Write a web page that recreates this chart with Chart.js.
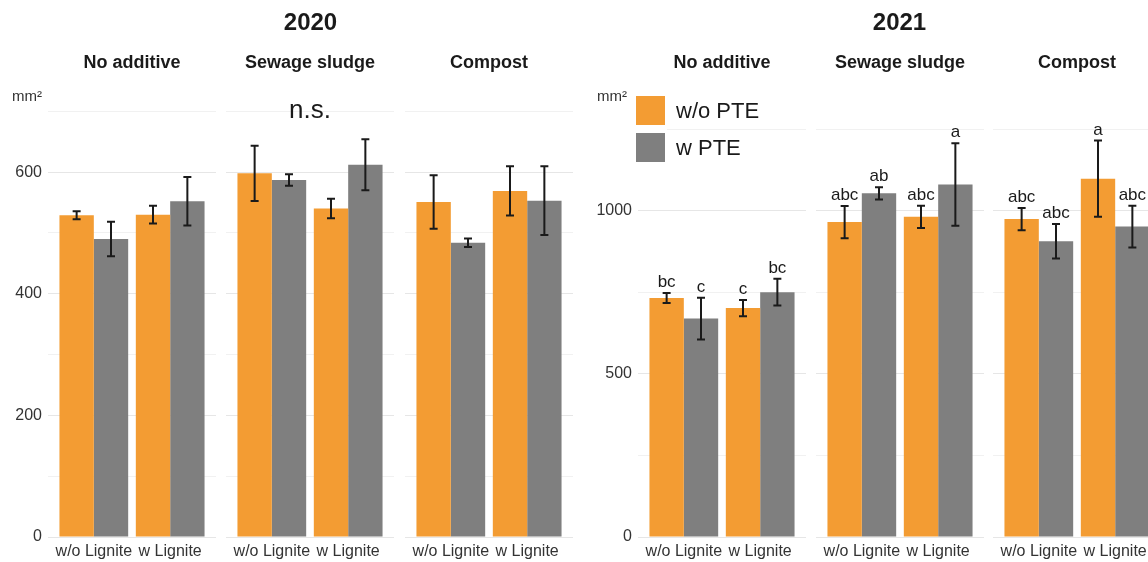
<!DOCTYPE html>
<html>
<head>
<meta charset="utf-8">
<script src="https://cdn.jsdelivr.net/npm/chart.js@4.4.0/dist/chart.umd.min.js"></script>
<style>
  body { margin: 0; width: 1148px; height: 562px; overflow: hidden; background: #fff; position: relative;
         font-family: 'Liberation Sans', Arial, sans-serif; color: #1a1a1a; }
  canvas { position: absolute; top: 0; }
  .year { position: absolute; top: 8px; font-size: 24px; line-height: 28px; font-weight: bold; text-align: center; }
  .unit { position: absolute; top: 87px; font-size: 15px; line-height: 18px; color: #333; }
  .keybg { position: absolute; left: 634px; top: 94px; width: 33px; height: 70px; background: #fff; }
  .key { position: absolute; left: 636px; width: 29px; height: 29px; }
  .keytxt { position: absolute; left: 676px; font-size: 22px; line-height: 29px; }
</style>
</head>
<body>
<script>
var facets = ['No additive', 'Sewage sludge', 'Compost'];
var ligniteLabels = ['w/o Lignite', 'w Lignite'];
var pteLabels = ['w/o PTE', 'w PTE'];
var pteColors = ['#F39C33', '#7F7F7F'];

// values in facet order, each facet: w/o Lignite, w Lignite
var mean2020WoPTE = [529, 530, 598, 540, 551, 569];
var se2020WoPTE = [6.5, 14.5, 45.5, 16, 44, 40.5];
var mean2020WPTE = [490, 552, 587, 612, 484, 553];
var se2020WPTE = [28.5, 40, 9.5, 42, 7, 56.5];
var notes2020 = ['', 'n.s.', ''];
var ticks2020 = [0, 200, 400, 600];

var mean2021WoPTE = [733, 702, 966, 982, 975, 1099];
var se2021WoPTE = [15.5, 25, 49.5, 34, 34, 117];
var mean2021WPTE = [670, 751, 1054, 1081, 907, 952];
var se2021WPTE = [64, 41, 18.5, 126.5, 53, 64];
var letters2021WoPTE = ['bc', 'c', 'abc', 'abc', 'abc', 'a'];
var letters2021WPTE = ['c', 'bc', 'ab', 'a', 'abc', 'abc'];
var ticks2021 = [0, 500, 1000];

Chart.defaults.font.family = "'Liberation Sans', Arial, sans-serif";
Chart.defaults.color = '#333';

var years = [
  { title: '2020', lefts: [48, 226, 405], unitLeft: 12, ymax: 735, step: 100, ticks: ticks2020,
    mean: [mean2020WoPTE, mean2020WPTE], se: [se2020WoPTE, se2020WPTE], letters: null, notes: notes2020 },
  { title: '2021', lefts: [638, 816, 993], unitLeft: 597, ymax: 1371, step: 250, ticks: ticks2021,
    mean: [mean2021WoPTE, mean2021WPTE], se: [se2021WoPTE, se2021WPTE],
    letters: [letters2021WoPTE, letters2021WPTE], notes: ['', '', ''] }
];

var errorBarPlugin = {
  id: 'errorBars',
  afterDatasetsDraw: function (chart, args, opts) {
    var ctx = chart.ctx;
    var yScale = chart.scales.y;
    ctx.save();
    chart.data.datasets.forEach(function (ds, i) {
      var meta = chart.getDatasetMeta(i);
      meta.data.forEach(function (bar, j) {
        var v = ds.data[j].y;
        var e = ds.errors[j];
        var top = yScale.getPixelForValue(v + e);
        var bot = yScale.getPixelForValue(v - e);
        ctx.strokeStyle = '#1a1a1a';
        ctx.lineWidth = 2;
        ctx.beginPath();
        ctx.moveTo(bar.x, top);
        ctx.lineTo(bar.x, bot);
        ctx.moveTo(bar.x - 4, top);
        ctx.lineTo(bar.x + 4, top);
        ctx.moveTo(bar.x - 4, bot);
        ctx.lineTo(bar.x + 4, bot);
        ctx.stroke();
        if (ds.letters) {
          ctx.fillStyle = '#1a1a1a';
          ctx.font = "17px 'Liberation Sans', Arial, sans-serif";
          ctx.textAlign = 'center';
          ctx.textBaseline = 'alphabetic';
          ctx.fillText(ds.letters[j], bar.x, top - 6);
        }
      });
    });
    if (opts.note) {
      var area = chart.chartArea;
      ctx.fillStyle = '#1a1a1a';
      ctx.font = "26px 'Liberation Sans', Arial, sans-serif";
      ctx.textAlign = 'center';
      ctx.textBaseline = 'middle';
      ctx.fillText(opts.note, (area.left + area.right) / 2, yScale.getPixelForValue(700));
    }
    ctx.restore();
  }
};

function makeFacet(year, f) {
  var showAxis = f === 0;
  var axisW = showAxis ? 48 : 0;
  var canvas = document.createElement('canvas');
  canvas.width = 168 + axisW;
  canvas.height = 562;
  canvas.style.left = (year.lefts[f] - axisW) + 'px';
  document.body.appendChild(canvas);

  var datasets = [0, 1].map(function (s) {
    return {
      label: pteLabels[s],
      data: ligniteLabels.map(function (lab, k) {
        return { x: k + 1, y: year.mean[s][f * 2 + k] };
      }),
      errors: year.se[s].slice(f * 2, f * 2 + 2),
      letters: year.letters ? year.letters[s].slice(f * 2, f * 2 + 2) : null,
      backgroundColor: pteColors[s],
      categoryPercentage: 0.9,
      barPercentage: 1.0
    };
  });

  new Chart(canvas, {
    type: 'bar',
    data: { datasets: datasets },
    plugins: [errorBarPlugin],
    options: {
      responsive: false,
      animation: false,
      layout: { padding: 0 },
      scales: {
        x: {
          type: 'linear',
          min: 0.4,
          max: 2.6,
          offset: false,
          afterBuildTicks: function (scale) {
            scale.ticks = [{ value: 1 }, { value: 2 }];
          },
          afterFit: function (scale) {
            scale.height = 25;
          },
          grid: { display: false, drawTicks: false },
          border: { display: false },
          ticks: {
            autoSkip: false,
            maxRotation: 0,
            padding: 5,
            font: { size: 16 },
            color: '#333',
            callback: function (v) {
              return ligniteLabels[v - 1];
            }
          }
        },
        y: {
          min: 0,
          max: year.ymax,
          afterBuildTicks: function (scale) {
            var t = [];
            for (var v = 0; v <= year.ymax; v += year.step) t.push({ value: v });
            scale.ticks = t;
          },
          afterFit: function (scale) {
            scale.width = axisW;
          },
          border: { display: false },
          grid: {
            drawTicks: false,
            color: function (c) {
              return year.ticks.indexOf(c.tick.value) >= 0 ? '#E6E6E6' : '#F1F1F1';
            }
          },
          ticks: {
            display: showAxis,
            padding: 6,
            font: { size: 16 },
            color: '#333',
            callback: function (v) {
              return year.ticks.indexOf(v) >= 0 ? String(v) : '';
            }
          }
        }
      },
      plugins: {
        legend: { display: false },
        tooltip: { enabled: false },
        title: {
          display: true,
          text: facets[f],
          fullSize: false,
          color: '#1a1a1a',
          font: { size: 18, weight: 'bold' },
          padding: { top: 52, bottom: 16.4 }
        },
        errorBars: { note: year.notes[f] }
      }
    }
  });
}

years.forEach(function (year) {
  for (var f = 0; f < facets.length; f++) makeFacet(year, f);

  var t = document.createElement('div');
  t.className = 'year';
  t.textContent = year.title;
  t.style.left = year.lefts[0] + 'px';
  t.style.width = (year.lefts[2] + 168 - year.lefts[0]) + 'px';
  document.body.appendChild(t);

  var u = document.createElement('div');
  u.className = 'unit';
  u.textContent = 'mm²';
  u.style.left = year.unitLeft + 'px';
  document.body.appendChild(u);
});

// legend for the PTE series, inside the 2021 panel
var keyBg = document.createElement('div');
keyBg.className = 'keybg';
document.body.appendChild(keyBg);
pteLabels.forEach(function (lab, s) {
  var k = document.createElement('div');
  k.className = 'key';
  k.style.top = (96 + s * 37) + 'px';
  k.style.background = pteColors[s];
  document.body.appendChild(k);
  var tx = document.createElement('div');
  tx.className = 'keytxt';
  tx.style.top = (96 + s * 37) + 'px';
  tx.textContent = lab;
  document.body.appendChild(tx);
});
</script>
</body>
</html>
